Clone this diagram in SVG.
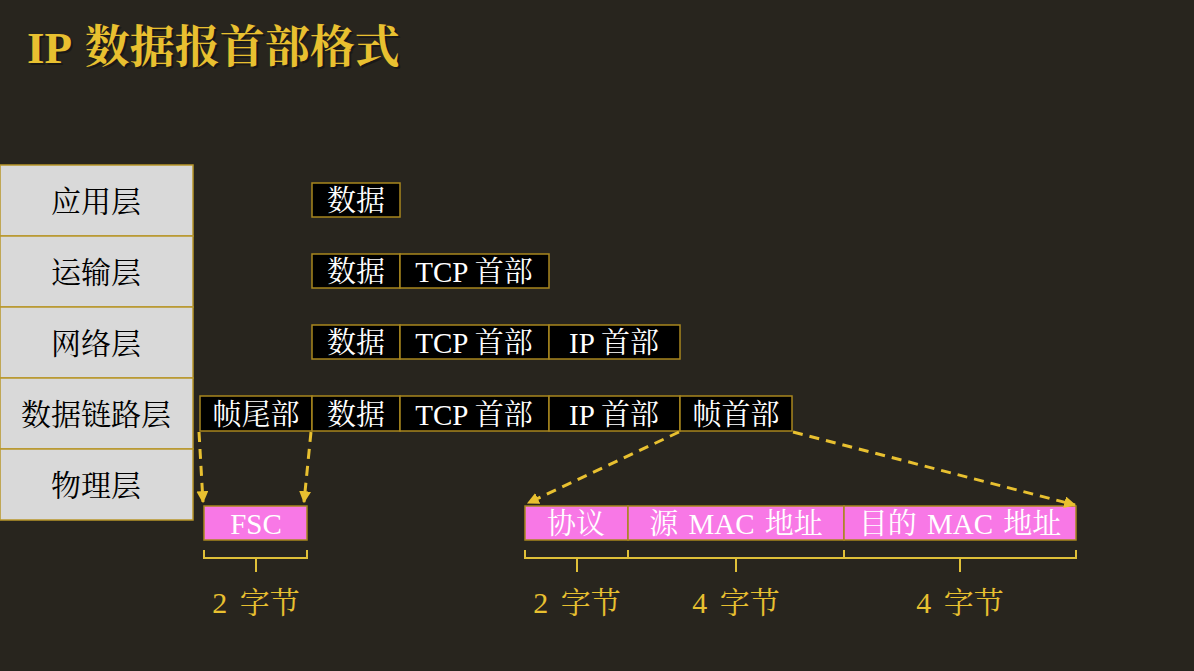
<svg xmlns="http://www.w3.org/2000/svg" width="1194" height="671" viewBox="0 0 1194 671">
<defs>
<style>
.t{font-family:"Liberation Serif","Noto Serif CJK SC","Noto Sans CJK SC",serif}
.layer rect{fill:#d9d9d9;stroke:#b8962a;stroke-width:1.5}
.layer text{font-size:30px;fill:#000;text-anchor:middle}
.pkt rect{fill:#000;stroke:#a8861e;stroke-width:1.5}
.pkt text{font-size:29px;fill:#fff;text-anchor:middle}
.pink rect{fill:#f878e6;stroke:#a8861e;stroke-width:1.5}
.pink text{font-size:29px;fill:#fff;text-anchor:middle;word-spacing:3px}
.dash{stroke:#e8c030;stroke-width:3;stroke-dasharray:10 7;fill:none}
.brace{stroke:#e0c038;stroke-width:2;fill:none}
.lbl{font-size:30px;fill:#e8c030;text-anchor:middle;word-spacing:5px}
</style>
<marker id="ah" viewBox="0 0 10 10" refX="9" refY="5" markerWidth="4" markerHeight="4" orient="auto" markerUnits="strokeWidth">
<path d="M0,0 L10,5 L0,10 z" fill="#e8c030"/>
</marker>
</defs>
<rect width="1194" height="671" fill="#28251e"/>
<text class="t" x="29" y="65" font-size="45" font-weight="bold" fill="#111" opacity="0.6" word-spacing="4">IP 数据报首部格式</text>
<text class="t" x="27" y="63" font-size="45" font-weight="bold" fill="#e8c030" word-spacing="4">IP 数据报首部格式</text>

<g id="layers" class="t layer">
<g id="app"><rect x="0" y="165" width="193" height="71"/><text x="96" y="212">应用层</text></g>
<g id="trans"><rect x="0" y="236" width="193" height="71"/><text x="96" y="283">运输层</text></g>
<g id="net"><rect x="0" y="307" width="193" height="71"/><text x="96" y="354">网络层</text></g>
<g id="link"><rect x="0" y="378" width="193" height="71"/><text x="96" y="425">数据链路层</text></g>
<g id="phys"><rect x="0" y="449" width="193" height="71"/><text x="96" y="496">物理层</text></g>
</g>

<g id="row1" class="t pkt">
<g id="r1data"><rect x="312" y="183" width="88" height="34"/><text x="356" y="211">数据</text></g>
</g>
<g id="row2" class="t pkt">
<g id="r2data"><rect x="312" y="254" width="88" height="34"/><text x="356" y="282">数据</text></g>
<g id="r2tcp"><rect x="400" y="254" width="149" height="34"/><text x="474" y="282">TCP 首部</text></g>
</g>
<g id="row3" class="t pkt">
<g id="r3data"><rect x="312" y="325" width="88" height="34"/><text x="356" y="353">数据</text></g>
<g id="r3tcp"><rect x="400" y="325" width="149" height="34"/><text x="474" y="353">TCP 首部</text></g>
<g id="r3ip"><rect x="549" y="325" width="131" height="34"/><text x="614" y="353">IP 首部</text></g>
</g>
<g id="row4" class="t pkt">
<g id="r4tail"><rect x="200" y="396" width="112" height="35"/><text x="256" y="425">帧尾部</text></g>
<g id="r4data"><rect x="312" y="396" width="88" height="35"/><text x="356" y="425">数据</text></g>
<g id="r4tcp"><rect x="400" y="396" width="149" height="35"/><text x="474" y="425">TCP 首部</text></g>
<g id="r4ip"><rect x="549" y="396" width="131" height="35"/><text x="614" y="425">IP 首部</text></g>
<g id="r4head"><rect x="680" y="396" width="112" height="35"/><text x="736" y="425">帧首部</text></g>
</g>

<g id="fields" class="t pink">
<g id="fsc"><rect x="204" y="506" width="103" height="34"/><text x="256" y="534">FSC</text></g>
<g id="proto"><rect x="525" y="506" width="103" height="34"/><text x="576" y="534">协议</text></g>
<g id="srcmac"><rect x="628" y="506" width="216" height="34"/><text x="736" y="534">源 MAC 地址</text></g>
<g id="dstmac"><rect x="844" y="506" width="232" height="34"/><text x="960" y="534">目的 MAC 地址</text></g>
</g>

<g id="connectors">
<path class="dash" d="M199,432 L203,502" marker-end="url(#ah)"/>
<path class="dash" d="M311,432 L304,502" marker-end="url(#ah)"/>
<path class="dash" d="M679,432 L528,503" marker-end="url(#ah)"/>
<path class="dash" d="M793,432 L1075,505" marker-end="url(#ah)"/>
</g>

<g id="braces">
<path class="brace" d="M204,550 L204,558 L307,558 L307,550 M256,558 L256,572"/>
<path class="brace" d="M525,550 L525,558 L628,558 L628,550 M577,558 L577,572"/>
<path class="brace" d="M628,558 L844,558 L844,550 M736,558 L736,572"/>
<path class="brace" d="M844,558 L1076,558 L1076,550 M960,558 L960,572"/>
</g>

<g id="labels" class="t lbl">
<text x="256" y="613">2 字节</text>
<text x="577" y="613">2 字节</text>
<text x="736" y="613">4 字节</text>
<text x="960" y="613">4 字节</text>
</g>
</svg>
